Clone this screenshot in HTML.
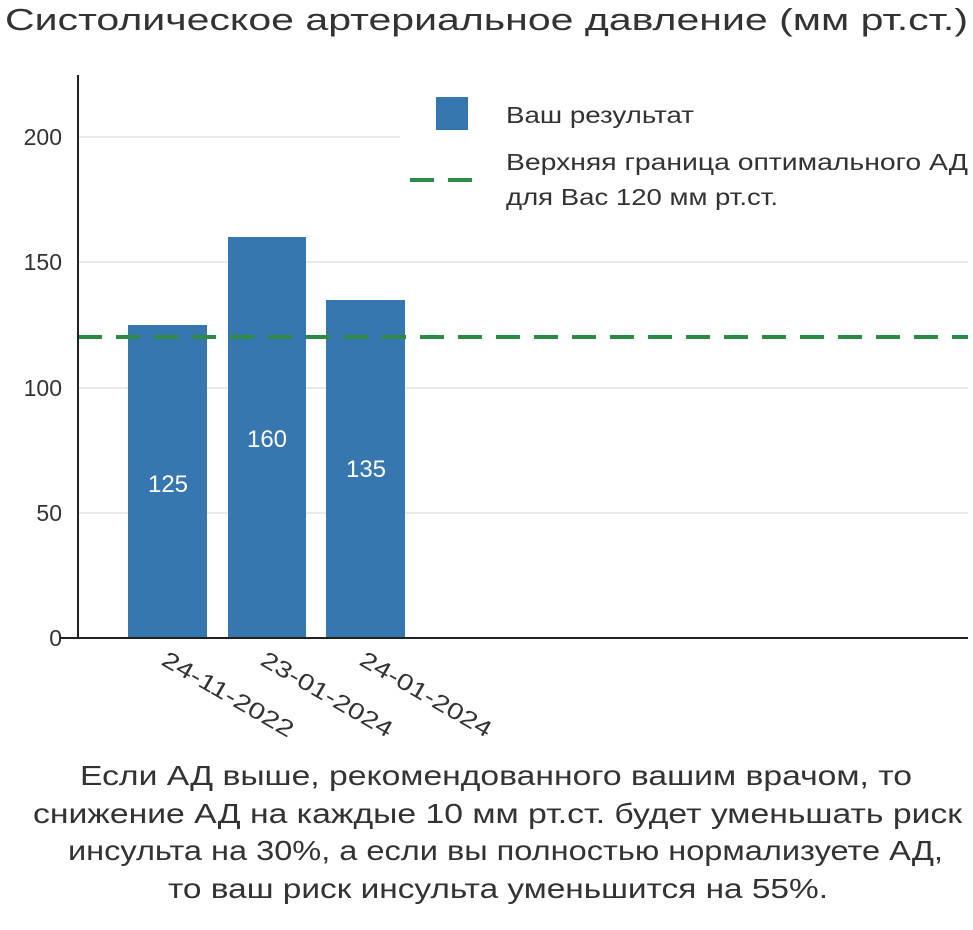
<!DOCTYPE html>
<html><head><meta charset="utf-8"><style>
html,body{margin:0;padding:0;background:#fff;}
svg{display:block;}
text{font-family:"Liberation Sans","DejaVu Sans",sans-serif;fill:#333;}
</style></head><body>
<svg width="973" height="930" viewBox="0 0 973 930" xmlns="http://www.w3.org/2000/svg">
<text x="5" y="30" font-size="31" textLength="963" lengthAdjust="spacingAndGlyphs">Систолическое артериальное давление (мм рт.ст.)</text>
<g stroke="#e4e4e4" stroke-width="1.5">
<line x1="78" y1="137" x2="400" y2="137"/>
<line x1="78" y1="262" x2="968" y2="262"/>
<line x1="78" y1="388" x2="968" y2="388"/>
<line x1="78" y1="513" x2="968" y2="513"/>
</g>
<g font-size="23" text-anchor="end">
<text x="62" y="145">200</text>
<text x="62" y="270">150</text>
<text x="62" y="396">100</text>
<text x="62" y="521">50</text>
<text x="62" y="646">0</text>
</g>
<g fill="#3777af">
<rect x="128" y="325" width="79" height="313"/>
<rect x="228" y="237" width="78" height="401"/>
<rect x="326" y="300" width="79" height="338"/>
</g>
<g font-size="24" text-anchor="middle">
<text x="168" y="492" style="fill:#fff">125</text>
<text x="267" y="447" style="fill:#fff">160</text>
<text x="366" y="477" style="fill:#fff">135</text>
</g>
<line x1="78" y1="337" x2="968" y2="337" stroke="#2e8b46" stroke-width="4" stroke-dasharray="24,14"/>
<line x1="78" y1="75" x2="78" y2="638" stroke="#222" stroke-width="2"/>
<line x1="60" y1="638" x2="968" y2="638" stroke="#222" stroke-width="2"/>
<rect x="436" y="97" width="32" height="33" fill="#3777af"/>
<text x="506" y="123" font-size="23" textLength="188" lengthAdjust="spacingAndGlyphs">Ваш результат</text>
<line x1="410" y1="180" x2="485" y2="180" stroke="#2e8b46" stroke-width="4" stroke-dasharray="24,14"/>
<text x="506" y="170" font-size="23" textLength="462" lengthAdjust="spacingAndGlyphs">Верхняя граница оптимального АД</text>
<text x="506" y="205" font-size="23" textLength="272" lengthAdjust="spacingAndGlyphs">для Вас 120 мм рт.ст.</text>
<g font-size="23">
<text transform="translate(160,664) rotate(30)" textLength="148" lengthAdjust="spacingAndGlyphs">24-11-2022</text>
<text transform="translate(259,664) rotate(30)" textLength="148" lengthAdjust="spacingAndGlyphs">23-01-2024</text>
<text transform="translate(358,664) rotate(30)" textLength="148" lengthAdjust="spacingAndGlyphs">24-01-2024</text>
</g>
<g font-size="28">
<text x="80" y="785" textLength="832" lengthAdjust="spacingAndGlyphs">Если АД выше, рекомендованного вашим врачом, то</text>
<text x="33" y="823" textLength="929" lengthAdjust="spacingAndGlyphs">снижение АД на каждые 10 мм рт.ст. будет уменьшать риск</text>
<text x="68" y="860" textLength="875" lengthAdjust="spacingAndGlyphs">инсульта на 30%, а если вы полностью нормализуете АД,</text>
<text x="168" y="898" textLength="660" lengthAdjust="spacingAndGlyphs">то ваш риск инсульта уменьшится на 55%.</text>
</g>
</svg>
</body></html>
